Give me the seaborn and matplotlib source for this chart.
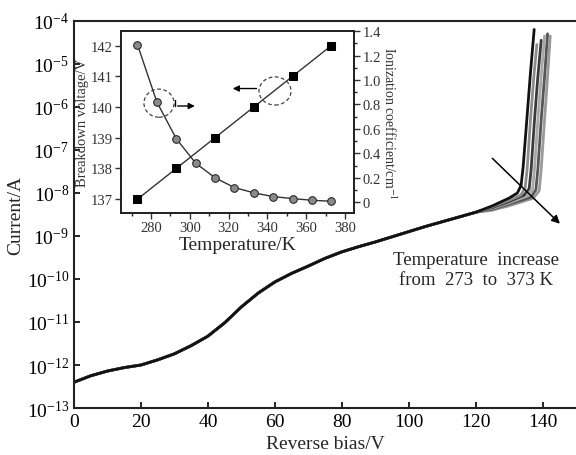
import matplotlib
matplotlib.use("Agg")
import matplotlib.pyplot as plt
import matplotlib.ticker as mt
from matplotlib.patches import Ellipse
import numpy as np
import pandas as pd
import seaborn as sb

# shared low-bias part of the I-V curves (log10 of current in A)
bias = [0, 5, 10, 15, 20, 25, 30, 35, 40, 45, 50, 55, 60, 65, 70, 75,
        80, 85, 90, 95, 100, 105, 110, 115, 120]
log_cur = [-12.4, -12.25, -12.14, -12.06, -12.0, -11.88, -11.74, -11.55,
           -11.33, -11.02, -10.65, -10.33, -10.07, -9.87, -9.7, -9.52,
           -9.37, -9.25, -9.14, -9.02, -8.9, -8.78, -8.67, -8.56, -8.45]

# breakdown tails, one per temperature
tail_v_273 = [125, 130, 132.5, 133.6, 134.2, 135.3, 136.4, 137.5]
tail_l_273 = [-8.30, -8.12, -8.0, -7.82, -7.4, -6.3, -5.2, -4.2]
tail_v_293 = [125, 130, 133.5, 134.8, 135.4, 136.4, 137.4, 138.3]
tail_l_293 = [-8.32, -8.17, -8.05, -7.88, -7.45, -6.3, -5.3, -4.55]
tail_v_313 = [125, 130, 134.5, 136.0, 136.6, 137.6, 138.6, 139.6]
tail_l_313 = [-8.34, -8.2, -8.05, -7.9, -7.45, -6.3, -5.3, -4.45]
tail_v_333 = [125, 130, 135.5, 137.0, 137.6, 138.6, 139.6, 140.6]
tail_l_333 = [-8.36, -8.23, -8.07, -7.92, -7.45, -6.3, -5.3, -4.35]
tail_v_353 = [125, 130, 136.5, 138.0, 138.6, 139.6, 140.6, 141.5]
tail_l_353 = [-8.38, -8.26, -8.1, -7.93, -7.45, -6.3, -5.3, -4.3]
tail_v_373 = [125, 130, 137.3, 139.0, 139.6, 140.6, 141.5, 142.3]
tail_l_373 = [-8.4, -8.3, -8.12, -7.95, -7.45, -6.3, -5.3, -4.35]

temps = [373, 353, 333, 313, 293, 273]
tails_v = [tail_v_373, tail_v_353, tail_v_333, tail_v_313, tail_v_293, tail_v_273]
tails_l = [tail_l_373, tail_l_353, tail_l_333, tail_l_313, tail_l_293, tail_l_273]
shades = ['#9a9a9a', '#555555', '#a8a8a8', '#3a3a3a', '#8c8c8c', '#111111']

# inset data
bd_temp = [273, 293, 313, 333, 353, 373]
bd_volt = [137, 138, 139, 140, 141, 142]
ion_temp = [273, 283, 293, 303, 313, 323, 333, 343, 353, 363, 373]
ion_coef = [1.29, 0.82, 0.52, 0.32, 0.20, 0.12, 0.077, 0.046, 0.030, 0.016, 0.008]

sb.set_style("ticks")
plt.rcParams['font.family'] = ['Liberation Serif', 'DejaVu Serif']
plt.rcParams['mathtext.fontset'] = 'stix'

rows = []
for t, tv, tl in zip(temps, tails_v, tails_l):
    for v, l in zip(bias + tv, log_cur + tl):
        rows.append((t, v, 10 ** l))
df = pd.DataFrame(rows, columns=["T", "V", "I"])

fig = plt.figure(figsize=(5.76, 4.56), dpi=100)
ax = fig.add_axes([0.1285, 0.103, 0.8715, 0.849])
sb.lineplot(data=df, x="V", y="I", hue="T", palette=dict(zip(temps, shades)),
            hue_order=temps, sort=False, estimator=None, lw=2.0, legend=False, ax=ax)
ax.set_yscale('log')
ax.set_ylim(1e-13, 1e-4)
ax.set_xlim(0, 150)
ax.set_xticks(range(0, 141, 20))
ax.yaxis.set_major_locator(mt.FixedLocator(10.0 ** np.arange(-13, -3)))
ax.yaxis.set_minor_locator(mt.NullLocator())
ax.tick_params(direction='in', length=4, width=1.2, labelsize=14, colors='black')
for s in ['left', 'bottom', 'top']:
    ax.spines[s].set_linewidth(1.5)
    ax.spines[s].set_color('#222')
ax.spines['right'].set_visible(False)
ax.set_xlabel("Reverse bias/V", fontsize=14, labelpad=4)
ax.set_ylabel("Current/A", fontsize=14, labelpad=2)

ax.annotate("", xy=(145.8, 10 ** -8.76), xytext=(124.4, 10 ** -7.15),
            arrowprops=dict(arrowstyle='-|>', color='black', lw=1.1, mutation_scale=12))
ax.text(120, 10 ** -9.78, "Temperature  increase\nfrom  273  to  373 K", fontsize=13.5,
        ha='center', va='center', linespacing=1.3)

# inset
axi = fig.add_axes([0.210, 0.5307, 0.4045, 0.399])
axr = axi.twinx()
sb.lineplot(x=bd_temp, y=bd_volt, ax=axi, color='#333', lw=1, marker='s', markersize=6,
            markerfacecolor='black', markeredgecolor='black')
sb.lineplot(x=ion_temp, y=ion_coef, ax=axr, color='#333', lw=1, marker='o', markersize=5.5,
            markerfacecolor='#8a8a8a', markeredgecolor='#222')
axi.set_xlim(264.5, 384.6)
axi.set_ylim(136.55, 142.47)
axr.set_ylim(-0.088, 1.40)
axi.set_xticks(range(280, 381, 20))
axi.xaxis.set_minor_locator(mt.MultipleLocator(10))
axi.set_yticks(bd_volt)
axr.set_yticks([0, 0.2, 0.4, 0.6, 0.8, 1.0, 1.2, 1.4])
axr.yaxis.set_minor_locator(mt.MultipleLocator(0.1))
axr.yaxis.set_major_formatter(mt.FuncFormatter(lambda v, p: "0" if v == 0 else f"{v:.1f}"))
axi.tick_params(direction='out', length=4, width=1, labelsize=10.5, colors='#333', pad=2)
axi.tick_params(axis='x', which='minor', direction='out', length=2.5, width=1)
axr.tick_params(direction='out', length=4, width=1, labelsize=10.5, colors='#333', pad=2)
axr.tick_params(axis='y', which='minor', direction='out', length=2.5, width=1)
for a in (axi, axr):
    for s in a.spines.values():
        s.set_linewidth(1.3)
        s.set_color('#222')
axi.set_xlabel("Temperature/K", fontsize=14, labelpad=1)
axi.set_ylabel("Breakdown voltage/V", fontsize=10.5, color='#333', labelpad=1)
axr.set_ylabel("Ionization coefficient/cm$^{-1}$", fontsize=10, color='#333',
               rotation=270, labelpad=12)

axr.add_patch(Ellipse((284.1, 0.81), 15.5, 0.23, fill=False, ls=(0, (3, 2)), lw=0.9, ec='#444'))
axr.add_patch(Ellipse((343.9, 0.91), 16.5, 0.23, fill=False, ls=(0, (3, 2)), lw=0.9, ec='#444'))
axr.plot([292.3, 292.3], [0.833, 0.787], color='black', lw=1)
axr.annotate("", xy=(304, 0.787), xytext=(292.3, 0.787),
             arrowprops=dict(arrowstyle='-|>', color='black', lw=1, mutation_scale=9))
axr.annotate("", xy=(320.7, 0.93), xytext=(335.8, 0.93),
             arrowprops=dict(arrowstyle='-|>', color='black', lw=1, mutation_scale=9))

fig.savefig("out.png", dpi=100)
